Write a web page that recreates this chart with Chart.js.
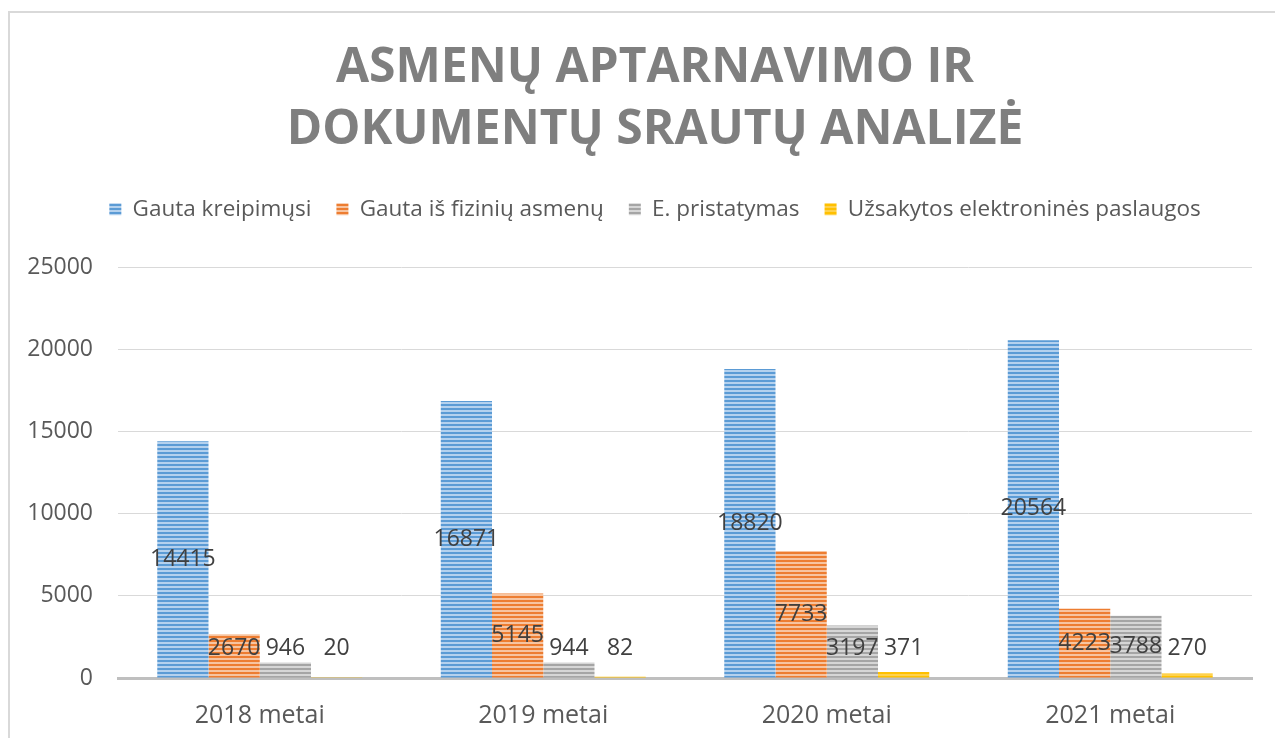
<!DOCTYPE html>
<html lang="lt">
<head>
<meta charset="utf-8">
<title>Asmenų aptarnavimo ir dokumentų srautų analizė</title>
<script src="https://cdn.jsdelivr.net/npm/chart.js@4/dist/chart.umd.min.js"></script>
<style>
    html, body { margin: 0; padding: 0; background: #fff; overflow: hidden; }
    #frame { position: absolute; left: 8px; top: 11px; width: 1320px; height: 800px; border: 2px solid #d9d9d9; }
    #wrap { position: absolute; left: 0; top: 0; width: 1275px; height: 738px; }
</style>
</head>
<body>
<div id="frame"></div>
<div id="wrap"><canvas id="chart" width="1275" height="738"></canvas></div>
<script>
// ----------------------
//  DATA
// ----------------------
const categories = ['2018 metai', '2019 metai', '2020 metai', '2021 metai'];
const seriesNames = ['Gauta kreipimųsi', 'Gauta iš fizinių asmenų', 'E. pristatymas', 'Užsakytos elektroninės paslaugos'];
const gautaKreipimusi = [14415, 16871, 18820, 20564];
const gautaIsFiziniu = [2670, 5145, 7733, 4223];
const ePristatymas = [946, 944, 3197, 3788];
const uzsakytosPaslaugos = [20, 82, 371, 270];
const yTicks = [0, 5000, 10000, 15000, 20000, 25000];
const titleLines = ['ASMENŲ APTARNAVIMO IR', 'DOKUMENTŲ SRAUTŲ ANALIZĖ'];

const FONT = "'Open Sans', sans-serif";

//  STRIPED FILL (horizontal lines, like the office pattern)
function stripes(dark, light) {
    const c = document.createElement('canvas');
    c.width = 4;
    c.height = 4;
    const g = c.getContext('2d');
    g.fillStyle = light;
    g.fillRect(0, 0, 4, 4);
    g.fillStyle = dark;
    g.fillRect(0, 0, 4, 2);
    return g.createPattern(c, 'repeat');
}

const fills = [
    stripes('#5b9bd5', '#b4d1ee'),
    stripes('#ed7d31', '#f7c4a0'),
    stripes('#a5a5a5', '#d6d6d6'),
    stripes('#ffc000', '#ffd24d'),
];

// ----------------------
//  PLUGINS
// ----------------------

//  DATA LABELS (centre of the bar, but never lower than a fixed offset above the axis)
const barLabels = {
    id: 'barLabels',
    afterDatasetsDraw(chart) {
        const ctx = chart.ctx;
        ctx.save();
        ctx.font = '23px ' + FONT;
        ctx.fillStyle = '#404040';
        ctx.textAlign = 'center';
        ctx.textBaseline = 'middle';
        chart.data.datasets.forEach((ds, i) => {
            chart.getDatasetMeta(i).data.forEach((bar, j) => {
                let y = (bar.y + bar.base) / 2;
                if (y > bar.base - 29) y = bar.base - 29;
                ctx.fillText(String(ds.data[j]), bar.x, y);
            });
        });
        ctx.restore();
    }
};

//  HEADER SHIFT (title + legend are centred on the whole frame, not on the canvas)
const headerShift = {
    id: 'headerShift',
    afterLayout(chart) {
        const dx = 20;
        [chart.titleBlock, chart.legend].forEach(box => {
            if (!box) return;
            box.left += dx;
            box.right += dx;
        });
    }
};

// ----------------------
//  CHART
// ----------------------
const series = [gautaKreipimusi, gautaIsFiziniu, ePristatymas, uzsakytosPaslaugos];

new Chart(document.getElementById('chart'), {
    type: 'bar',
    data: {
        labels: categories,
        datasets: series.map((values, i) => ({
            label: seriesNames[i],
            data: values,
            backgroundColor: fills[i],
            borderWidth: 0,
        })),
    },
    options: {
        responsive: false,
        animation: false,
        devicePixelRatio: 1,
        categoryPercentage: 0.723,
        barPercentage: 1,
        layout: { padding: { left: 18, right: 23, top: 0, bottom: 0 } },
        plugins: {
            tooltip: { enabled: false },
            title: {
                display: true,
                text: titleLines,
                color: '#7f7f7f',
                font: { family: FONT, size: 48, weight: 'bold', lineHeight: '62px' },
                padding: { top: 37, bottom: 12 },
            },
            legend: {
                position: 'top',
                weight: 1750,
                labels: {
                    boxWidth: 12,
                    boxHeight: 12,
                    padding: 25,
                    color: '#595959',
                    font: { family: FONT, size: 22.5 },
                },
            },
            subtitle: {
                display: true,
                text: '',
                font: { size: 10, lineHeight: '37px' },
                padding: 0,
            },
        },
        scales: {
            x: {
                grid: { display: false },
                border: { display: true, color: '#bfbfbf', width: 3 },
                ticks: {
                    color: '#595959',
                    font: { family: FONT, size: 25 },
                    padding: 15,
                },
                afterFit: scale => { scale.height = 60; },
            },
            y: {
                min: 0,
                max: 25000,
                grid: { color: '#d9d9d9', lineWidth: 1, drawTicks: false },
                border: { display: false },
                ticks: {
                    color: '#595959',
                    font: { family: FONT, size: 23 },
                    padding: 25,
                    callback: value => String(value),
                },
                afterBuildTicks: scale => { scale.ticks = yTicks.map(v => ({ value: v })); },
                afterFit: scale => { scale.width = 100; },
            },
        },
    },
    plugins: [barLabels, headerShift],
});
</script>
</body>
</html>
